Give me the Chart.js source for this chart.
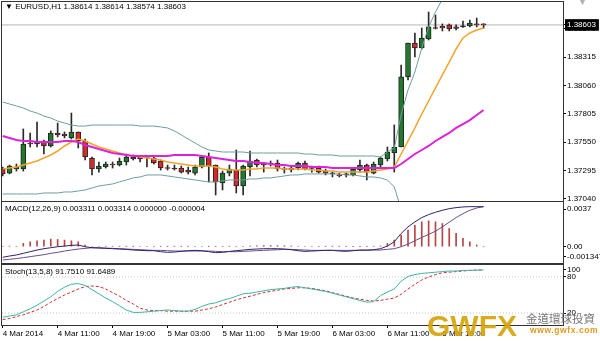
<!DOCTYPE html>
<html lang="en">
<head>
    <meta charset="UTF-8">
    <title>EURUSD,H1</title>
    <script src="https://cdn.jsdelivr.net/npm/chart.js"></script>
    <style>
        body {
            margin: 0;
            background: #fff;
            font-family: 'Liberation Sans', Arial, sans-serif;
        }
        #wrap {
            position: relative;
            width: 600px;
            height: 341px;
            overflow: hidden;
        }
        .pane {
            position: absolute;
            left: 0;
            width: 600px;
        }
        .caption {
            position: absolute;
            left: 5px;
            font-size: 8px;
            color: #000;
            white-space: nowrap;
        }
        .gwfx {
            position: absolute;
            left: 427px;
            top: 309px;
            font: bold 30px 'Liberation Sans', Arial, sans-serif;
            color: #d6a50c;
            opacity: 0.92;
        }
        .gwfx-cn {
            position: absolute;
            left: 526px;
            top: 310px;
            font-size: 11.5px;
            font-family: 'Noto Sans CJK TC', sans-serif;
            color: #777;
        }
        .gwfx-url {
            position: absolute;
            left: 530px;
            top: 325px;
            font: bold 8.5px 'Liberation Sans', Arial, sans-serif;
            letter-spacing: 0.6px;
            color: #e39a1c;
        }
        .shift-mark {
            position: absolute;
            left: 578px;
            top: -3px;
            font-size: 9px;
            color: #b0b0b0;
        }
    </style>
</head>
<body>
<div id="wrap">
    <div class="pane" style="top:0;height:203px"><canvas id="mainChart"></canvas></div>
    <div class="pane" style="top:195px;height:75px"><canvas id="macdChart"></canvas></div>
    <div class="pane" style="top:258px;height:83px"><canvas id="stochChart"></canvas></div>

    <div class="caption" id="mainCaption" style="top:2px"></div>
    <div class="caption" id="macdCaption" style="top:204px"></div>
    <div class="caption" id="stochCaption" style="top:267px"></div>
    <div class="shift-mark">▼</div>

    <div class="gwfx">GWFX</div>
    <div class="gwfx-cn">金道環球投資</div>
    <div class="gwfx-url">www.gwfx.com</div>
</div>

<script>
    // EURUSD H1, one bar per hour from 4 Mar 2014 03:00
    const open = [1.37309, 1.37273, 1.37309, 1.37309, 1.37538, 1.37534, 1.37561, 1.37516, 1.37633, 1.37624,
        1.37588, 1.37642, 1.37561, 1.37408, 1.37309, 1.37327, 1.37354, 1.37345, 1.37372, 1.37417,
        1.37417, 1.37417, 1.37408, 1.37381, 1.37318, 1.37309, 1.37318, 1.37300, 1.37273, 1.37327,
        1.37417, 1.37345, 1.37184, 1.37273, 1.37300, 1.37157, 1.37327, 1.37390, 1.37350, 1.37354,
        1.37363, 1.37309, 1.37300, 1.37318, 1.37363, 1.37318, 1.37318, 1.37291, 1.37265, 1.37256,
        1.37256, 1.37256, 1.37300, 1.37345, 1.37273, 1.37345, 1.37399, 1.37453, 1.37507, 1.38136,
        1.38441, 1.38396, 1.38477, 1.38576, 1.38590, 1.38603, 1.38585, 1.38585, 1.38594, 1.38612,
        1.38614];
    const high = [1.37327, 1.37345, 1.37354, 1.37669, 1.37633, 1.37731, 1.37570, 1.37651, 1.37722, 1.37642,
        1.37812, 1.37642, 1.37579, 1.37417, 1.37372, 1.37372, 1.37372, 1.37408, 1.37444, 1.37435,
        1.37426, 1.37426, 1.37426, 1.37390, 1.37345, 1.37345, 1.37336, 1.37327, 1.37345, 1.37426,
        1.37453, 1.37345, 1.37291, 1.37345, 1.37480, 1.37345, 1.37471, 1.37399, 1.37363, 1.37381,
        1.37390, 1.37327, 1.37336, 1.37372, 1.37381, 1.37336, 1.37336, 1.37309, 1.37282, 1.37273,
        1.37273, 1.37318, 1.37390, 1.37354, 1.37372, 1.37417, 1.37507, 1.37705, 1.38243, 1.38441,
        1.38531, 1.38576, 1.38719, 1.38692, 1.38612, 1.38612, 1.38603, 1.38638, 1.38647, 1.38665,
        1.38614];
    const low = [1.37247, 1.37265, 1.37291, 1.37291, 1.37507, 1.37507, 1.37444, 1.37507, 1.37597, 1.37588,
        1.37579, 1.37498, 1.37390, 1.37256, 1.37282, 1.37318, 1.37318, 1.37336, 1.37345, 1.37390,
        1.37372, 1.37327, 1.37354, 1.37300, 1.37300, 1.37300, 1.37273, 1.37265, 1.37256, 1.37318,
        1.37193, 1.37076, 1.37121, 1.37247, 1.37094, 1.37076, 1.37247, 1.37327, 1.37282, 1.37336,
        1.37291, 1.37273, 1.37282, 1.37300, 1.37300, 1.37282, 1.37273, 1.37256, 1.37238, 1.37238,
        1.37238, 1.37247, 1.37282, 1.37211, 1.37265, 1.37327, 1.37381, 1.37282, 1.37507, 1.38109,
        1.38315, 1.38387, 1.38468, 1.38567, 1.38549, 1.38549, 1.38558, 1.38580, 1.38585, 1.38585,
        1.38574];
    const close = [1.37265, 1.37336, 1.37327, 1.37534, 1.37534, 1.37561, 1.37516, 1.37633, 1.37615, 1.37606,
        1.37642, 1.37561, 1.37417, 1.37309, 1.37336, 1.37354, 1.37345, 1.37381, 1.37417, 1.37399,
        1.37399, 1.37413, 1.37363, 1.37318, 1.37314, 1.37309, 1.37282, 1.37282, 1.37327, 1.37417,
        1.37336, 1.37193, 1.37273, 1.37309, 1.37157, 1.37336, 1.37381, 1.37345, 1.37345, 1.37363,
        1.37309, 1.37305, 1.37318, 1.37363, 1.37309, 1.37314, 1.37282, 1.37273, 1.37265, 1.37247,
        1.37256, 1.37309, 1.37345, 1.37282, 1.37354, 1.37408, 1.37462, 1.37507, 1.38136, 1.38441,
        1.38396, 1.38486, 1.38585, 1.38571, 1.38576, 1.38567, 1.38571, 1.38585, 1.38620, 1.38603,
        1.38603];

    // Bollinger bands and the two moving averages
    const bandUpper = [1.37911, 1.37893, 1.37875, 1.37857, 1.37830, 1.37812, 1.37785, 1.37767, 1.37740, 1.37722,
        1.37704, 1.37695, 1.37695, 1.37704, 1.37704, 1.37704, 1.37704, 1.37704, 1.37704, 1.37704,
        1.37695, 1.37695, 1.37695, 1.37687, 1.37678, 1.37651, 1.37615, 1.37579, 1.37543, 1.37507,
        1.37480, 1.37471, 1.37462, 1.37462, 1.37462, 1.37462, 1.37453, 1.37453, 1.37453, 1.37453,
        1.37453, 1.37453, 1.37453, 1.37453, 1.37444, 1.37444, 1.37435, 1.37435, 1.37435, 1.37426,
        1.37426, 1.37426, 1.37426, 1.37426, 1.37426, 1.37417, 1.37462, 1.37498, 1.37794, 1.38019,
        1.38180, 1.38396, 1.38585, 1.38719, 1.38836, 1.38900, 1.38950, 1.38990, 1.39020, 1.39040,
        1.39050];
    const bandLower = [1.37085, 1.37085, 1.37085, 1.37085, 1.37085, 1.37085, 1.37094, 1.37094, 1.37094, 1.37103,
        1.37103, 1.37112, 1.37121, 1.37139, 1.37157, 1.37166, 1.37175, 1.37193, 1.37211, 1.37229,
        1.37238, 1.37256, 1.37256, 1.37256, 1.37247, 1.37238, 1.37229, 1.37220, 1.37211, 1.37202,
        1.37193, 1.37193, 1.37202, 1.37211, 1.37211, 1.37211, 1.37220, 1.37220, 1.37229, 1.37229,
        1.37238, 1.37247, 1.37256, 1.37256, 1.37265, 1.37265, 1.37265, 1.37265, 1.37265, 1.37265,
        1.37256, 1.37256, 1.37247, 1.37238, 1.37238, 1.37229, 1.37211, 1.37148, 1.36950, 1.36880,
        1.36840, 1.36800, 1.36780, 1.36770, 1.36770, 1.36780, 1.36800, 1.36830, 1.36860, 1.36900,
        1.36940];
    const maFast = [1.37309, 1.37318, 1.37327, 1.37345, 1.37363, 1.37381, 1.37408, 1.37435, 1.37471, 1.37516,
        1.37552, 1.37579, 1.37561, 1.37534, 1.37507, 1.37489, 1.37471, 1.37453, 1.37435, 1.37426,
        1.37417, 1.37408, 1.37399, 1.37390, 1.37372, 1.37363, 1.37354, 1.37345, 1.37336, 1.37336,
        1.37336, 1.37327, 1.37309, 1.37300, 1.37300, 1.37300, 1.37309, 1.37309, 1.37318, 1.37318,
        1.37318, 1.37309, 1.37309, 1.37309, 1.37309, 1.37300, 1.37300, 1.37291, 1.37291, 1.37282,
        1.37282, 1.37282, 1.37282, 1.37282, 1.37291, 1.37300, 1.37309, 1.37327, 1.37444, 1.37561,
        1.37678, 1.37803, 1.37920, 1.38037, 1.38154, 1.38270, 1.38387, 1.38486, 1.38531, 1.38558,
        1.38576];
    const maSlow = [1.37606, 1.37588, 1.37570, 1.37561, 1.37561, 1.37552, 1.37552, 1.37552, 1.37552, 1.37561,
        1.37561, 1.37552, 1.37525, 1.37507, 1.37489, 1.37471, 1.37453, 1.37444, 1.37435, 1.37426,
        1.37426, 1.37426, 1.37426, 1.37426, 1.37426, 1.37435, 1.37435, 1.37435, 1.37435, 1.37426,
        1.37417, 1.37408, 1.37399, 1.37390, 1.37381, 1.37381, 1.37372, 1.37363, 1.37363, 1.37354,
        1.37345, 1.37345, 1.37336, 1.37336, 1.37336, 1.37327, 1.37327, 1.37327, 1.37318, 1.37318,
        1.37318, 1.37318, 1.37318, 1.37318, 1.37318, 1.37318, 1.37318, 1.37318, 1.37354, 1.37399,
        1.37444, 1.37480, 1.37516, 1.37561, 1.37597, 1.37633, 1.37678, 1.37713, 1.37749, 1.37794,
        1.37839];

    // MACD(12,26,9)
    const macdMain = [-0.000877, -0.000767, -0.000685, -0.000548, -0.000411, -0.000274, -0.000164, -0.000082, 0.000000, 0.000055,
        0.000110, 0.000137, 0.000000, -0.000082, -0.000110, -0.000137, -0.000164, -0.000192, -0.000219, -0.000274,
        -0.000301, -0.000329, -0.000329, -0.000411, -0.000466, -0.000438, -0.000384, -0.000329, -0.000301, -0.000329,
        -0.000411, -0.000493, -0.000466, -0.000384, -0.000329, -0.000274, -0.000219, -0.000192, -0.000164, -0.000164,
        -0.000164, -0.000192, -0.000247, -0.000329, -0.000384, -0.000356, -0.000329, -0.000301, -0.000301, -0.000356,
        -0.000384, -0.000329, -0.000274, -0.000274, -0.000247, -0.000164, 0.000055, 0.000411, 0.001096, 0.001644,
        0.002055, 0.002411, 0.002658, 0.002850, 0.003014, 0.003151, 0.003233, 0.003288, 0.003315, 0.003315,
        0.003311];
    const macdSignal = [-0.001096, -0.001041, -0.000986, -0.000904, -0.000822, -0.000740, -0.000658, -0.000548, -0.000466, -0.000356,
        -0.000274, -0.000192, -0.000137, -0.000082, -0.000082, -0.000110, -0.000137, -0.000164, -0.000192, -0.000219,
        -0.000247, -0.000274, -0.000301, -0.000301, -0.000329, -0.000356, -0.000356, -0.000356, -0.000356, -0.000356,
        -0.000356, -0.000384, -0.000411, -0.000411, -0.000411, -0.000384, -0.000356, -0.000329, -0.000301, -0.000274,
        -0.000247, -0.000219, -0.000219, -0.000247, -0.000274, -0.000301, -0.000301, -0.000301, -0.000301, -0.000301,
        -0.000301, -0.000301, -0.000301, -0.000301, -0.000274, -0.000274, -0.000219, -0.000164, 0.000000, 0.000219,
        0.000493, 0.000767, 0.001014, 0.001288, 0.001644, 0.002028, 0.002411, 0.002740, 0.003014, 0.003206,
        0.003314];
    const macdHist = [0, 0.00005, 0, 0.00027, 0.00041, 0.00049, 0.00055, 0.00063, 0.00060, 0.00055,
        0.00049, 0.00041, 0.00014, 0.00004, 0.00004, 0.00004, 0.00004, 0.00003, 0.00003, 0.00003,
        0, 0, 0, 0.00003, 0.00003, 0.00003, 0.00003, 0.00003, 0, 0,
        0.00003, 0.00003, 0, 0.00003, 0, 0.00004, 0.00006, 0.00008, 0.00010, 0.00010,
        0.00009, 0.00008, 0.00006, 0.00004, 0, 0, 0, 0.00003, 0.00003, 0.00003,
        0.00003, 0.00003, 0.00003, 0.00003, 0.00004, 0.00006, 0.00027, 0.00055, 0.00096, 0.00137,
        0.00178, 0.00206, 0.00214, 0.00206, 0.00192, 0.00151, 0.00110, 0.00069, 0.00041, 0.00014,
        0];

    // Stoch(13,5,8)
    const stochMain = [13, 15, 17, 22, 27, 33, 40, 47, 56, 63,
        68, 69, 66, 59, 52, 45, 39, 32, 25, 21,
        21, 22, 23, 24, 25, 24, 23, 23, 26, 31,
        35, 37, 41, 44, 48, 52, 53, 55, 57, 59,
        60, 61, 63, 64, 62, 60, 58, 56, 53, 50,
        47, 44, 41, 38, 39, 49, 55, 60, 73, 81,
        84, 86, 87, 88, 89, 90, 90, 91, 91, 91.5,
        91.751];
    const stochSignal = [9, 11, 14, 17, 21, 25, 31, 38, 44, 50,
        55, 60, 64, 65, 64, 60, 54, 48, 41, 35,
        28, 25, 24, 24, 23, 23, 23, 23, 23, 25,
        27, 30, 34, 38, 42, 45, 48, 51, 54, 56,
        58, 60, 61, 62, 62, 61, 59, 57, 54, 51,
        48, 45, 43, 41, 40, 41, 43, 45, 51, 60,
        68, 75, 80, 84, 87, 88, 89, 90, 91, 91.5,
        91.6489];
    const stochLevels = [20, 80];

    // axis labels
    const priceTicks = [1.37040, 1.37295, 1.37550, 1.37805, 1.38060, 1.38315, 1.38570];
    const macdTickText = ['0.0037', '0.00', '-0.001347'];
    const macdTickAt = [0.0031, 0, -0.0008];
    const stochTickText = ['100', '80', '20'];
    const stochTickAt = [92, 80, 20];
    const timeTickBars = [0, 8, 16, 24, 32, 40, 48, 56, 64];
    const timeTickText = ['4 Mar 2014', '4 Mar 11:00', '4 Mar 19:00', '5 Mar 03:00', '5 Mar 11:00',
        '5 Mar 19:00', '6 Mar 03:00', '6 Mar 11:00', '6 Mar 19:00'];

    const last = close.length - 1;
    const lastClose = close[last];
    const X_MIN = -0.1;
    const X_MAX = 81.56;
    const FONT = { family: "'Liberation Sans', Arial, sans-serif", size: 8 };

    document.getElementById('mainCaption').textContent =
        '▼ EURUSD,H1  ' + [open[last], high[last], low[last], close[last]].map(v => v.toFixed(5)).join(' ');
    document.getElementById('macdCaption').textContent =
        'MACD(12,26,9) ' + macdMain[last].toFixed(6) + ' ' + macdSignal[last].toFixed(6) + ' 0.000000 -0.000004';
    document.getElementById('stochCaption').textContent =
        'Stoch(13,5,8) ' + stochMain[last].toFixed(4) + ' ' + stochSignal[last].toFixed(4);

    const pts = arr => arr.map((v, i) => ({ x: i, y: v }));
    const flat = v => [{ x: X_MIN, y: v }, { x: X_MAX, y: v }];

    // black frame around each panel, like the terminal windows
    const framePlugin = {
        id: 'frame',
        afterDraw(chart) {
            const { ctx, chartArea: a } = chart;
            ctx.save();
            ctx.strokeStyle = '#333';
            ctx.lineWidth = 1;
            ctx.strokeRect(Math.round(a.left) - 0.5, Math.round(a.top) - 0.5,
                Math.round(a.right - a.left) + 1, Math.round(a.bottom - a.top) + 1);
            ctx.restore();
        }
    };

    function hiddenX() {
        return { type: 'linear', min: X_MIN, max: X_MAX, offset: false, display: false };
    }

    function rightAxis(min, max, tickAt, labelFor) {
        return {
            position: 'right',
            min: min,
            max: max,
            afterFit: s => { s.width = 37; s.paddingTop = 0; s.paddingBottom = 0; },
            afterBuildTicks: s => { s.ticks = tickAt.map(v => ({ value: v })); },
            grid: { drawOnChartArea: false, drawTicks: true, tickLength: 3, color: '#000' },
            border: { display: false },
            ticks: { font: FONT, color: '#000', padding: 1, autoSkip: false, callback: labelFor }
        };
    }

    function baseOptions(scales, padding) {
        return {
            responsive: true,
            maintainAspectRatio: false,
            animation: false,
            devicePixelRatio: 1,
            layout: { padding: padding },
            plugins: { legend: { display: false }, tooltip: { enabled: false } },
            scales: scales
        };
    }

    // main price window
    const mainAxis = rightAxis(1.37022, 1.38809, priceTicks.concat([lastClose]), v => v.toFixed(5));
    mainAxis.ticks.color = c => (c.index === priceTicks.length) ? '#fff' : '#000';
    mainAxis.ticks.showLabelBackdrop = c => c.index === priceTicks.length;
    mainAxis.ticks.backdropColor = '#000';
    mainAxis.ticks.backdropPadding = { top: 1, bottom: 1, left: 2, right: 3 };

    new Chart(document.getElementById('mainChart'), {
        type: 'bar',
        data: {
            datasets: [
                { type: 'line', data: pts(maSlow), borderColor: '#dc22dc', borderWidth: 2, pointRadius: 0, order: 0 },
                { type: 'line', data: pts(maFast), borderColor: '#f2a42c', borderWidth: 1.5, pointRadius: 0, order: 0 },
                { type: 'line', data: pts(bandUpper), borderColor: '#6f9d9d', borderWidth: 1, pointRadius: 0, order: 0 },
                { type: 'line', data: pts(bandLower), borderColor: '#6f9d9d', borderWidth: 1, pointRadius: 0, order: 0 },
                {
                    data: open.map((o, i) => ({ x: i, y: [o, close[i]] })),
                    backgroundColor: open.map((o, i) => close[i] > o ? '#1f7a2c' : (close[i] < o ? '#d42a2a' : '#222')),
                    borderColor: '#222', borderWidth: 1, borderSkipped: false,
                    barThickness: 5, minBarLength: 1, grouped: false, order: 1
                },
                {
                    data: low.map((l, i) => ({ x: i, y: [l, high[i]] })),
                    backgroundColor: '#2a2a2a', borderWidth: 0,
                    barThickness: 1, grouped: false, order: 2
                },
                { type: 'line', data: flat(lastClose), borderColor: '#b4b4b4', borderWidth: 1, pointRadius: 0, order: 3 }
            ]
        },
        options: baseOptions({ x: hiddenX(), y: mainAxis }, { top: 2, bottom: 2, left: 2, right: 0 }),
        plugins: [framePlugin]
    });

    // MACD window
    new Chart(document.getElementById('macdChart'), {
        type: 'bar',
        data: {
            datasets: [
                { type: 'line', data: pts(macdMain), borderColor: '#2c2466', borderWidth: 1, pointRadius: 0, order: 0 },
                { type: 'line', data: pts(macdSignal), borderColor: '#6a4c8c', borderWidth: 1, pointRadius: 0, order: 0 },
                { data: pts(macdHist), backgroundColor: '#b84444', barThickness: 1, grouped: false, order: 1 }
            ]
        },
        options: baseOptions({
            x: hiddenX(),
            y: rightAxis(-0.001347, 0.0037, macdTickAt, (v, i) => macdTickText[i])
        }, { top: 7, bottom: 7, left: 2, right: 0 }),
        plugins: [framePlugin]
    });

    // Stochastic window with the time axis
    new Chart(document.getElementById('stochChart'), {
        type: 'line',
        data: {
            datasets: [
                { data: pts(stochMain), borderColor: '#3fb3a5', borderWidth: 1, pointRadius: 0 },
                { data: pts(stochSignal), borderColor: '#d03030', borderWidth: 1, borderDash: [3, 2], pointRadius: 0 },
                { data: flat(stochLevels[0]), borderColor: '#c4c4c4', borderWidth: 1, borderDash: [1, 2], pointRadius: 0 },
                { data: flat(stochLevels[1]), borderColor: '#c4c4c4', borderWidth: 1, borderDash: [1, 2], pointRadius: 0 }
            ]
        },
        options: baseOptions({
            x: {
                type: 'linear',
                min: X_MIN,
                max: X_MAX,
                offset: false,
                position: 'bottom',
                afterFit: s => { s.height = 16; s.paddingLeft = 0; s.paddingRight = 0; },
                afterBuildTicks: s => { s.ticks = timeTickBars.map(v => ({ value: v })); },
                grid: { drawOnChartArea: false, drawTicks: true, tickLength: 3, color: '#000' },
                border: { display: false },
                ticks: {
                    font: FONT, color: '#000', padding: 1, align: 'start',
                    maxRotation: 0, autoSkip: false, callback: (v, i) => timeTickText[i]
                }
            },
            y: rightAxis(0, 100, stochTickAt, (v, i) => stochTickText[i])
        }, { top: 7, bottom: 0, left: 2, right: 0 }),
        plugins: [framePlugin]
    });
</script>
</body>
</html>
